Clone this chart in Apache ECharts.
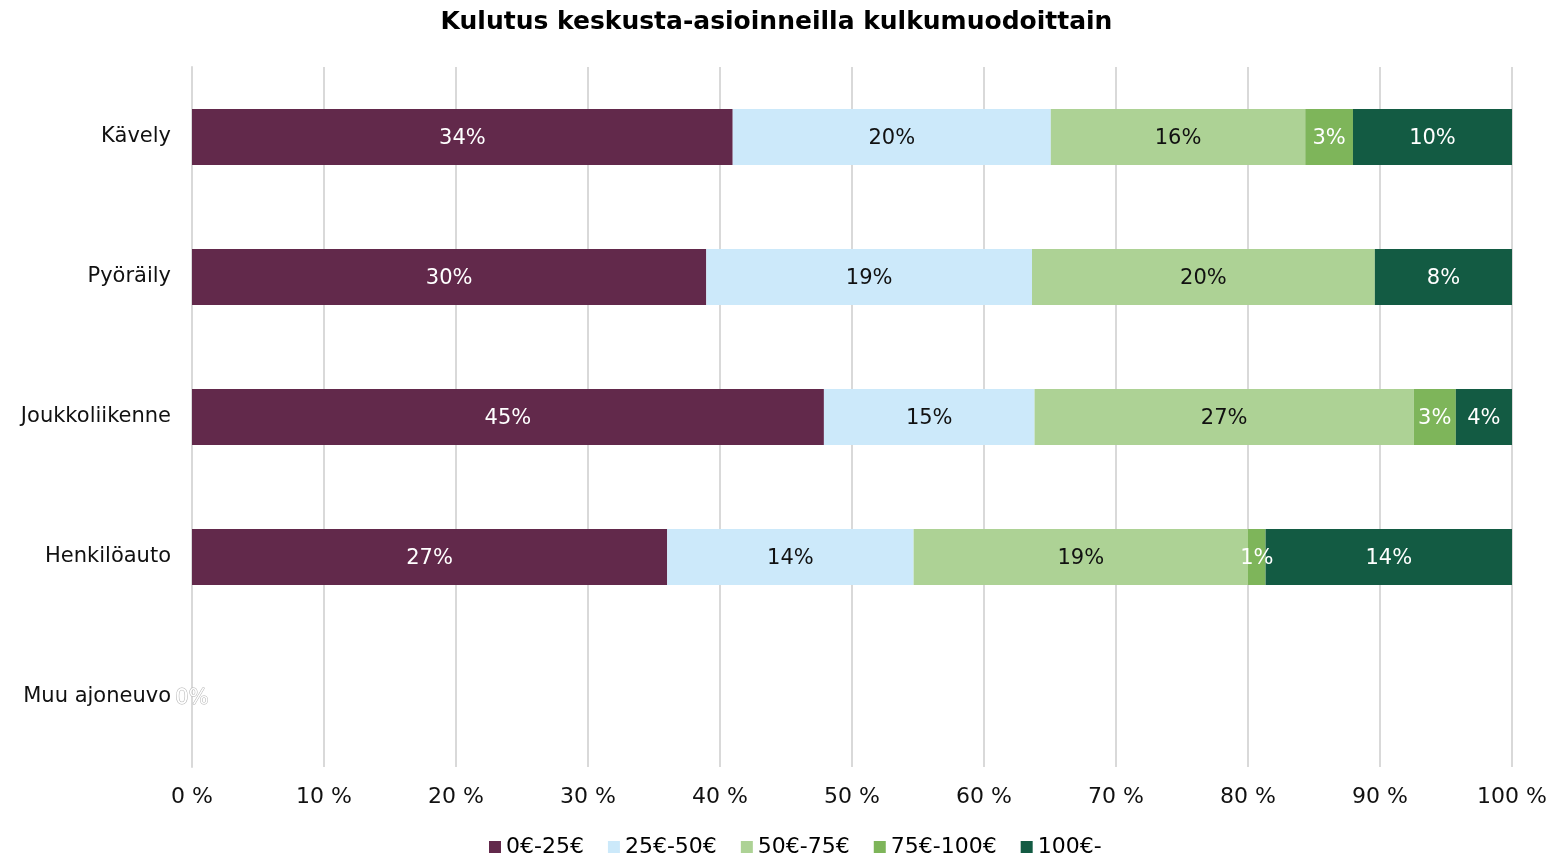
<!DOCTYPE html>
<html lang="fi" style="width: 100%;height:100%">
    <head>
        <meta charset="UTF-8">
        <title>Kulutus</title>
        <script src="https://cdn.jsdelivr.net/npm/echarts@6.0.0/dist/echarts.min.js"></script>
    </head>
    <body style="width: 100%;height:100%;margin:0">
        <div id="bar" style="width: 1553px;height:856px"></div>
        <script>
            // kulkumuodot ja rahaluokat
            var categories = ['Kävely', 'Pyöräily', 'Joukkoliikenne', 'Henkilöauto', 'Muu ajoneuvo'];
            var seriesNames = ['0€-25€', '25€-50€', '50€-75€', '75€-100€', '100€-'];
            var colors = ['#62294b', '#cce9fa', '#add295', '#7eb55a', '#135b43'];
            var labelColors = ['#ffffff', '#111111', '#111111', '#ffffff', '#ffffff'];

            // osuudet (%), kuten datalabeleissa
            var v0_25 = [34, 30, 45, 27, 0];
            var v25_50 = [20, 19, 15, 14, 0];
            var v50_75 = [16, 20, 27, 19, 0];
            var v75_100 = [3, 0, 3, 1, 0];
            var v100 = [10, 8, 4, 14, 0];
            var xTicks = [0, 10, 20, 30, 40, 50, 60, 70, 80, 90, 100];

            var allValues = [v0_25, v25_50, v50_75, v75_100, v100];
            var totals = categories.map(function (c, i) {
                return allValues.reduce(function (s, arr) { return s + arr[i]; }, 0);
            });

            var series = allValues.map(function (arr, si) {
                return {
                    name: seriesNames[si],
                    type: 'bar',
                    stack: 'all',
                    barWidth: 56,
                    itemStyle: { color: colors[si] },
                    label: {
                        show: true,
                        position: 'inside',
                        offset: [0, 2],
                        color: labelColors[si],
                        fontSize: 21,
                        fontFamily: 'DejaVu Sans',
                        formatter: function (p) { return arr[p.dataIndex] + '%'; }
                    },
                    data: arr.map(function (v, i) {
                        var item = { value: totals[i] ? v / totals[i] * 100 : 0 };
                        if (v === 0) {
                            // tyhjällä rivillä näkyy vain ensimmäisen sarjan 0%
                            if (totals[i] === 0 && si === 0) {
                                item.label = { show: true, position: 'inside', textBorderColor: '#b0b0b0', textBorderWidth: 1 };
                            } else {
                                item.label = { show: false };
                            }
                        }
                        return item;
                    })
                };
            });

            const myChart = echarts.init(document.getElementById('bar'));

            const option = {
                animation: false,
                textStyle: { fontFamily: 'DejaVu Sans' },
                title: {
                    text: 'Kulutus keskusta-asioinneilla kulkumuodoittain',
                    left: 'center',
                    top: 5,
                    textStyle: { fontSize: 25, fontWeight: 'bold', color: '#000', fontFamily: 'DejaVu Sans' }
                },
                legend: {
                    top: 831,
                    left: 484,
                    itemWidth: 12,
                    itemHeight: 12,
                    itemGap: 24,
                    icon: 'rect',
                    textStyle: { fontSize: 22, color: '#000', fontFamily: 'DejaVu Sans' },
                    data: seriesNames
                },
                grid: { left: 192, right: 41, top: 67, bottom: 89 },
                xAxis: {
                    type: 'value',
                    min: 0,
                    max: 100,
                    interval: 10,
                    axisLabel: {
                        fontSize: 22,
                        color: '#111',
                        margin: 19,
                        formatter: function (v) { return xTicks.indexOf(v) >= 0 ? v + ' %' : ''; }
                    },
                    splitLine: { lineStyle: { color: '#d9d9d9', width: 2 } },
                    axisLine: { show: false },
                    axisTick: { show: false }
                },
                yAxis: {
                    type: 'category',
                    inverse: true,
                    data: categories,
                    axisLabel: { fontSize: 21, color: '#111', margin: 21, padding: [4, 0, 0, 0] },
                    axisLine: { show: true, lineStyle: { color: '#d9d9d9', width: 2 } },
                    axisTick: { show: false }
                },
                series: series
            };

            myChart.setOption(option);
        </script>
    </body>
</html>
